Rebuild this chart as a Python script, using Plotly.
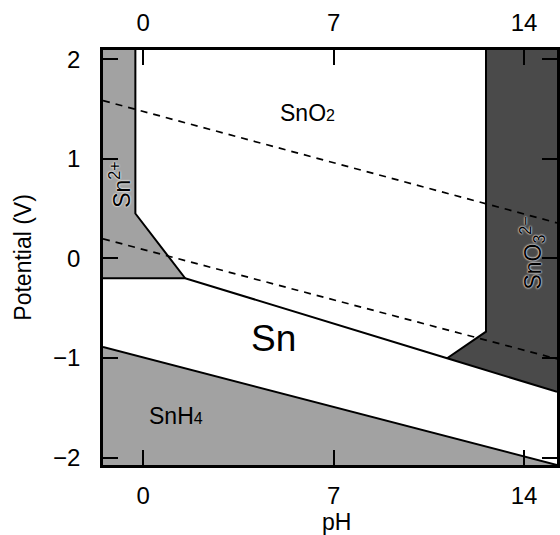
import plotly.graph_objects as go

# ---- data (pH, potential V) ----
x_range = [-1.48, 15.21]
y_range = [-2.075, 2.092]

x_ticks = [0, 7, 14]
y_ticks = [-2, -1, 0, 1, 2]

# region polygons
sn2_ph = [-1.48, -0.29, -0.29, 1.54, -1.48]
sn2_v = [2.092, 2.092, 0.45, -0.20, -0.20]

snh4_ph = [-1.48, 15.21, -1.48]
snh4_v = [-0.89, -2.075, -2.075]

sno3_ph = [12.6, 15.21, 15.21, 11.17, 12.6]
sno3_v = [2.092, 2.092, -1.34, -1.003, -0.736]

# solid boundaries
b1_ph = [-0.29, -0.29, 1.54]
b1_v = [2.092, 0.45, -0.20]
b2_ph = [-1.48, 1.54, 11.17, 15.21]
b2_v = [-0.20, -0.20, -1.003, -1.34]
b3_ph = [12.6, 12.6, 11.17]
b3_v = [2.092, -0.736, -1.003]
b4_ph = [-1.48, 15.21]
b4_v = [-0.89, -2.075]

# dashed water lines
wu_ph = [-1.48, 15.21]
wu_v = [1.584, 0.356]
wl_ph = [-1.48, 15.21]
wl_v = [0.196, -1.01]

FONT = "Liberation Sans, Arial, Helvetica, sans-serif"

fig = go.Figure()

light = "#a2a2a2"
dark = "#4a4a4a"
for px, py, col in [(sn2_ph, sn2_v, light), (snh4_ph, snh4_v, light), (sno3_ph, sno3_v, dark)]:
    fig.add_trace(go.Scatter(x=px, y=py, fill="toself", fillcolor=col, mode="none",
                             hoverinfo="skip", showlegend=False))

for px, py in [(b1_ph, b1_v), (b2_ph, b2_v), (b3_ph, b3_v), (b4_ph, b4_v)]:
    fig.add_trace(go.Scatter(x=px, y=py, mode="lines", line=dict(color="black", width=2),
                             hoverinfo="skip", showlegend=False))

for px, py in [(wu_ph, wu_v), (wl_ph, wl_v)]:
    fig.add_trace(go.Scatter(x=px, y=py, mode="lines",
                             line=dict(color="black", width=1.7, dash="7px,6px"),
                             hoverinfo="skip", showlegend=False))

# invisible trace for top axis
fig.add_trace(go.Scatter(x=x_range, y=y_range, xaxis="x2", mode="none",
                         hoverinfo="skip", showlegend=False))

halo = "0px 0px 2px white, 0px 0px 2px white"
ann = [
    dict(x=6.05, y=1.46, text="SnO<span style='font-size:16px'>2</span>", font=dict(size=23)),
    dict(x=4.8, y=-0.80, text="Sn", font=dict(size=37)),
    dict(x=1.2, y=-1.58, text="SnH<span style='font-size:16px'>4</span>", font=dict(size=23)),
    dict(x=-0.85, y=0.74, text="Sn<sup>2+</sup>", font=dict(size=23, shadow=halo), textangle=-90),
    dict(x=14.3, y=0.05, text="SnO<sub>3</sub><sup>2−</sup>", font=dict(size=23, shadow=halo),
         textangle=-90),
]
for a in ann:
    a.update(xref="x", yref="y", showarrow=False)
    a["font"].update(color="black", family=FONT)

# axis titles
ann.append(dict(x=0.515, y=-0.137, xref="paper", yref="paper", text="pH", showarrow=False,
                font=dict(size=23, color="black", family=FONT), yanchor="middle"))
ann.append(dict(x=-0.178, y=0.5, xref="paper", yref="paper", text="Potential (V)", showarrow=False,
                textangle=-90, font=dict(size=23, color="black", family=FONT), xanchor="center"))

axis_common = dict(showgrid=False, zeroline=False, ticks="inside", ticklen=15, tickwidth=2,
                   tickcolor="black", automargin=False,
                   tickfont=dict(size=24, color="black", family=FONT))

fig.update_layout(
    width=560, height=535,
    margin=dict(l=103, r=3, t=50, b=70),
    plot_bgcolor="white", paper_bgcolor="white",
    annotations=ann,
    xaxis=dict(range=x_range, tickvals=x_ticks, showline=True, linewidth=2.5, linecolor="black",
               mirror="ticks", ticklabelstandoff=7, **axis_common),
    xaxis2=dict(range=x_range, tickvals=x_ticks, overlaying="x", side="top", showline=False,
                ticklabelstandoff=13, **{**axis_common, "ticks": ""}),
    yaxis=dict(range=y_range, tickvals=y_ticks, showline=True, linewidth=2.5, linecolor="black",
               mirror="ticks", ticklabelstandoff=15, **axis_common),
)

fig.write_html("out.html", config={"displayModeBar": False},
               post_script="document.body.style.margin='0';document.body.style.overflow='hidden';")
